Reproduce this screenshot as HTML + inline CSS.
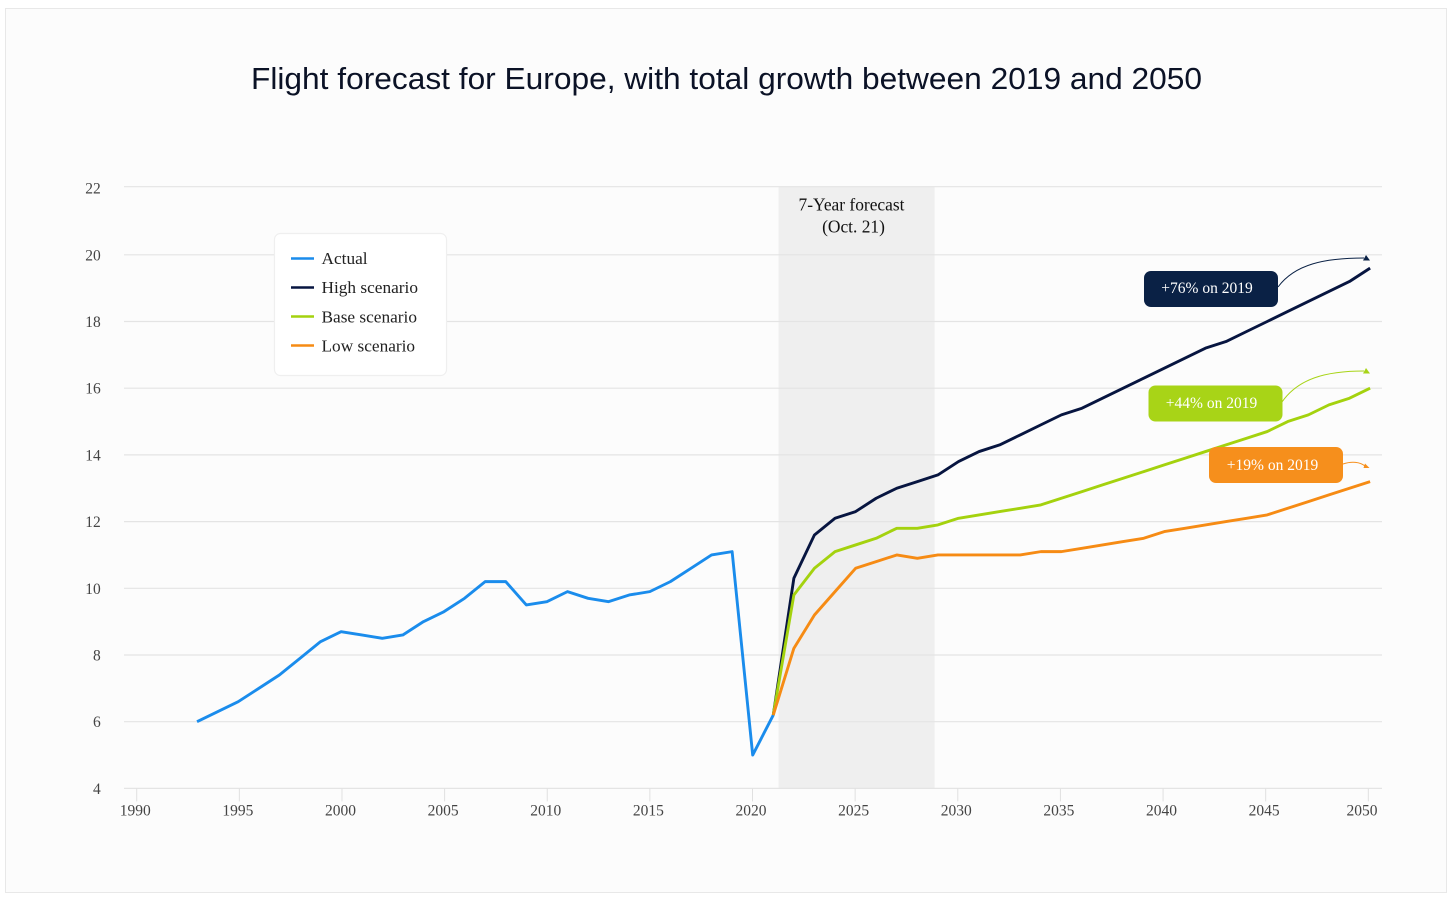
<!DOCTYPE html>
<html lang="en">
<head>
<meta charset="utf-8">
<title>Flight forecast for Europe</title>
<style>
html,body{margin:0;padding:0;background:#fff;width:1456px;height:905px;overflow:hidden}
svg{display:block}
text{font-family:"Liberation Serif",serif}
</style>
</head>
<body>
<svg id="chart" xmlns="http://www.w3.org/2000/svg" width="1456" height="905" viewBox="0 0 1456 905">
  <rect x="5.5" y="8.5" width="1441" height="884" fill="#fcfcfc" stroke="#e8e8e8" stroke-width="1"/>
  <text x="251" y="89" textLength="951" lengthAdjust="spacingAndGlyphs" style="font-family:'Liberation Sans',sans-serif" font-size="31" fill="#0b1226">Flight forecast for Europe, with total growth between 2019 and 2050</text>
  <rect id="band" fill="#efefef"/>
  <g id="grid"></g>
  <g id="yaxis"></g>
  <g id="xaxis"></g>
  <text x="851.5" y="210.5" text-anchor="middle" font-size="17.4" fill="#111">7-Year forecast</text>
  <text x="853.5" y="232.5" text-anchor="middle" font-size="17.4" fill="#111">(Oct. 21)</text>
  <g id="series"></g>

  <g>
    <rect x="274.5" y="233.5" width="172" height="142" rx="6" fill="#fff" stroke="#efefef" stroke-width="1.2"/>
    <g>
      <line x1="291" x2="314" y1="258.5" y2="258.5" stroke="#1a8cec" stroke-width="2.6"/>
      <text x="321.5" y="264" font-size="17.3" fill="#222">Actual</text>
    </g>
    <g>
      <line x1="291" x2="314" y1="287.5" y2="287.5" stroke="#071540" stroke-width="2.6"/>
      <text x="321.5" y="293" font-size="17.3" fill="#222">High scenario</text>
    </g>
    <g>
      <line x1="291" x2="314" y1="316.5" y2="316.5" stroke="#a4d20e" stroke-width="2.6"/>
      <text x="321.5" y="322.5" font-size="17.3" fill="#222">Base scenario</text>
    </g>
    <g>
      <line x1="291" x2="314" y1="345.5" y2="345.5" stroke="#f68b14" stroke-width="2.6"/>
      <text x="321.5" y="351.5" font-size="17.3" fill="#222">Low scenario</text>
    </g>
  </g>

  <g>
    <rect x="1144" y="271" width="134" height="36" rx="7" fill="#0a2145"/>
    <text x="1207" y="293" text-anchor="middle" font-size="15.5" fill="#fff">+76% on 2019</text>
    <path d="M1278 287C1295 264 1325 258 1364 258" fill="none" stroke="#0a2145" stroke-width="1"/>
    <path d="M1366 255L1370 260.5L1363 260.5Z" fill="#0a2145"/>
  </g>
  <g>
    <rect x="1148.5" y="385.5" width="134" height="36" rx="7" fill="#a8d417"/>
    <text x="1211.5" y="408" text-anchor="middle" font-size="15.5" fill="#fff">+44% on 2019</text>
    <path d="M1282 402C1298 379 1325 371 1364 371" fill="none" stroke="#a8d417" stroke-width="1"/>
    <path d="M1366 368L1370 373.5L1363 373.5Z" fill="#a8d417"/>
  </g>
  <g>
    <rect x="1209" y="447" width="134" height="36" rx="7" fill="#f68f1c"/>
    <text x="1272.5" y="470" text-anchor="middle" font-size="15.5" fill="#fff">+19% on 2019</text>
    <path d="M1343 464C1352 461 1360 462 1365 466" fill="none" stroke="#f68f1c" stroke-width="1"/>
    <path d="M1365 463.5L1369.5 468L1363.5 468Z" fill="#f68f1c"/>
  </g>
</svg>
<script>
const yTicks = [4, 6, 8, 10, 12, 14, 16, 18, 20, 22];
const xTicks = [1990, 1995, 2000, 2005, 2010, 2015, 2020, 2025, 2030, 2035, 2040, 2045, 2050];
const forecastBand = [2021.27, 2028.87];
const actualYears = [1993, 1994, 1995, 1996, 1997, 1998, 1999, 2000, 2001, 2002, 2003, 2004, 2005, 2006, 2007, 2008, 2009, 2010, 2011, 2012, 2013, 2014, 2015, 2016, 2017, 2018, 2019, 2020, 2021];
const actualValues = [6.0, 6.3, 6.6, 7.0, 7.4, 7.9, 8.4, 8.7, 8.6, 8.5, 8.6, 9.0, 9.3, 9.7, 10.2, 10.2, 9.5, 9.6, 9.9, 9.7, 9.6, 9.8, 9.9, 10.2, 10.6, 11.0, 11.1, 5.0, 6.2];
const forecastYears = [2021, 2022, 2023, 2024, 2025, 2026, 2027, 2028, 2029, 2030, 2031, 2032, 2033, 2034, 2035, 2036, 2037, 2038, 2039, 2040, 2041, 2042, 2043, 2044, 2045, 2046, 2047, 2048, 2049, 2050];
const highValues = [6.2, 10.3, 11.6, 12.1, 12.3, 12.7, 13.0, 13.2, 13.4, 13.8, 14.1, 14.3, 14.6, 14.9, 15.2, 15.4, 15.7, 16.0, 16.3, 16.6, 16.9, 17.2, 17.4, 17.7, 18.0, 18.3, 18.6, 18.9, 19.2, 19.6];
const baseValues = [6.2, 9.8, 10.6, 11.1, 11.3, 11.5, 11.8, 11.8, 11.9, 12.1, 12.2, 12.3, 12.4, 12.5, 12.7, 12.9, 13.1, 13.3, 13.5, 13.7, 13.9, 14.1, 14.3, 14.5, 14.7, 15.0, 15.2, 15.5, 15.7, 16.0];
const lowValues = [6.2, 8.2, 9.2, 9.9, 10.6, 10.8, 11.0, 10.9, 11.0, 11.0, 11.0, 11.0, 11.0, 11.1, 11.1, 11.2, 11.3, 11.4, 11.5, 11.7, 11.8, 11.9, 12.0, 12.1, 12.2, 12.4, 12.6, 12.8, 13.0, 13.2];

const NS = 'http://www.w3.org/2000/svg';
const xScale = function (year) { return 136.7 + (year - 1990) * 20.527; };
const dataX = function (year) { return 752.7 + (year - 2020) * 20.58; };
const yScale = function (v) { return 788.4 - (v - 4) * 33.35; };
const make = function (tag, parent, attrs) {
  const el = document.createElementNS(NS, tag);
  Object.keys(attrs).forEach(function (k) { el.setAttribute(k, attrs[k]); });
  parent.appendChild(el);
  return el;
};

const band = document.getElementById('band');
band.setAttribute('x', xScale(forecastBand[0]));
band.setAttribute('y', 187);
band.setAttribute('width', xScale(forecastBand[1]) - xScale(forecastBand[0]));
band.setAttribute('height', yScale(4) - 187);

const grid = document.getElementById('grid');
const yaxis = document.getElementById('yaxis');
yTicks.forEach(function (t, i) {
  const lineY = yScale(t) - (i === yTicks.length - 1 ? 1.4 : 0);
  const line = make('line', grid, { x1: 124, x2: 1382, y1: lineY, y2: lineY, stroke: '#e4e4e4', 'stroke-width': 1.2 });
  
  
  const label = make('text', yaxis, { x: 100.8, y: yScale(t) + 5.5, 'text-anchor': 'end', 'font-size': 15.5, fill: '#444' });
  
  
  label.textContent = t;
});

const xaxis = document.getElementById('xaxis');
xTicks.forEach(function (t, i) {
  const tick = make('line', xaxis, { x1: xScale(t), x2: xScale(t), y1: yScale(4), y2: yScale(4) + 13, stroke: '#e0e0e0', 'stroke-width': 1 });
  
  
  const shift = i === xTicks.length - 1 ? -6.3 : -1.5;
  const label = make('text', xaxis, { x: xScale(t) + shift, y: 815.5, 'text-anchor': 'middle', 'font-size': 15.5, fill: '#444' });
  
  
  label.textContent = t;
});

const seriesGroup = document.getElementById('series');
const drawSeries = function (name, years, values, color) {
  const pts = values.map(function (v, i) { return dataX(years[i]).toFixed(2) + ',' + yScale(v).toFixed(2); }).join(' ');
  const line = make('polyline', seriesGroup, { points: pts, fill: 'none', stroke: color, 'stroke-width': 2.9, 'stroke-linejoin': 'round' });
  
  
};
drawSeries('series-actual', actualYears, actualValues, '#1a8cec');
drawSeries('series-high-scenario', forecastYears, highValues, '#071540');
drawSeries('series-base-scenario', forecastYears, baseValues, '#a4d20e');
drawSeries('series-low-scenario', forecastYears, lowValues, '#f68b14');
</script>
</body>
</html>
